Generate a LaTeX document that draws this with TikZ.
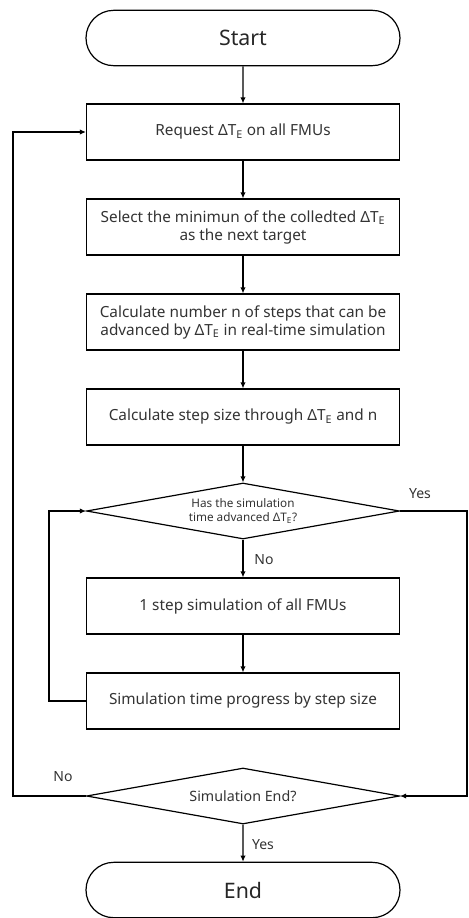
\documentclass[tikz,border=0pt]{standalone}
\usepackage{fontspec}
\setmainfont{Noto Sans}
\usetikzlibrary{shapes.geometric,shapes.misc,arrows.meta}

\tikzset{
  flow/.style={line width=0.9pt,-{Latex[length=4.5pt,width=4pt]}},
  termbox/.style={rounded rectangle,draw,line width=0.9pt,minimum width=235.5pt,minimum height=41.5pt,inner sep=0pt,font=\fontsize{16}{19}\selectfont,text=black!85},
  procbox/.style={rectangle,draw,line width=0.9pt,minimum width=234.75pt,minimum height=42pt,inner sep=0pt,align=center,font=\fontsize{11.5}{13.5}\selectfont,text=black!80},
  decbox/.style={diamond,draw,line width=0.9pt,minimum width=234.75pt,minimum height=42pt,inner sep=0pt,aspect=5.6,align=center,text=black!80},
  lbl/.style={inner sep=0.75pt,font=\fontsize{10.5}{12}\selectfont,text=black!80}
}

\begin{document}
\begin{tikzpicture}[x=0.75pt,y=0.75pt,yscale=-1,xscale=1]
\useasboundingbox (0,0) rectangle (468,918);
% Terminals
\node [termbox] (start) at (243,38) {Start};
\node [termbox] (end) at (243,890) {End};
% Process boxes
\node [procbox] (req) at (243,132) {Request ΔT\textsubscript{E} on all FMUs};
\node [procbox] (sel) at (243,227) {Select the minimun of the colledted ΔT\textsubscript{E}\\as the next target};
\node [procbox] (calc) at (243,322) {Calculate number n of steps that can be\\advanced by ΔT\textsubscript{E} in real-time simulation};
\node [procbox] (size) at (243,417) {Calculate step size through ΔT\textsubscript{E} and n};
\node [procbox] (one) at (243,606) {1 step simulation of all FMUs};
\node [procbox] (prog) at (243,701) {Simulation time progress by step size};
% Decisions
\node [decbox,font=\fontsize{8.8}{11}\selectfont] (adv) at (243,511) {Has the simulation\\time advanced ΔT\textsubscript{E}?};
\node [decbox,font=\fontsize{10.7}{12}\selectfont] (fin) at (243,796) {Simulation End?};
% Corner points of the loops
\coordinate (outer) at (13,796);
\coordinate (inner) at (49,701);
\coordinate (rgt) at (467,511);
% Straight flow
\draw [flow] (start) -- (req);
\draw [flow] (req) -- (sel);
\draw [flow] (sel) -- (calc);
\draw [flow] (calc) -- (size);
\draw [flow] (size) -- (adv);
\draw [flow] (adv) -- (one);
\draw [flow] (one) -- (prog);
\draw [flow] (fin) -- (end);
% Loops
\draw [flow] (prog.west) -- (inner) |- (adv.west);
\draw [flow] (fin.west) -- (outer) |- (req.west);
\draw [flow] (adv.east) -- (rgt) |- (fin.east);
% Labels
\node [lbl] (yesadv) at (420,494) {Yes};
\node [lbl] (noadv) at (264,560) {No};
\node [lbl] (nofin) at (63,777) {No};
\node [lbl] (yesfin) at (263,845) {Yes};
\end{tikzpicture}
\end{document}
